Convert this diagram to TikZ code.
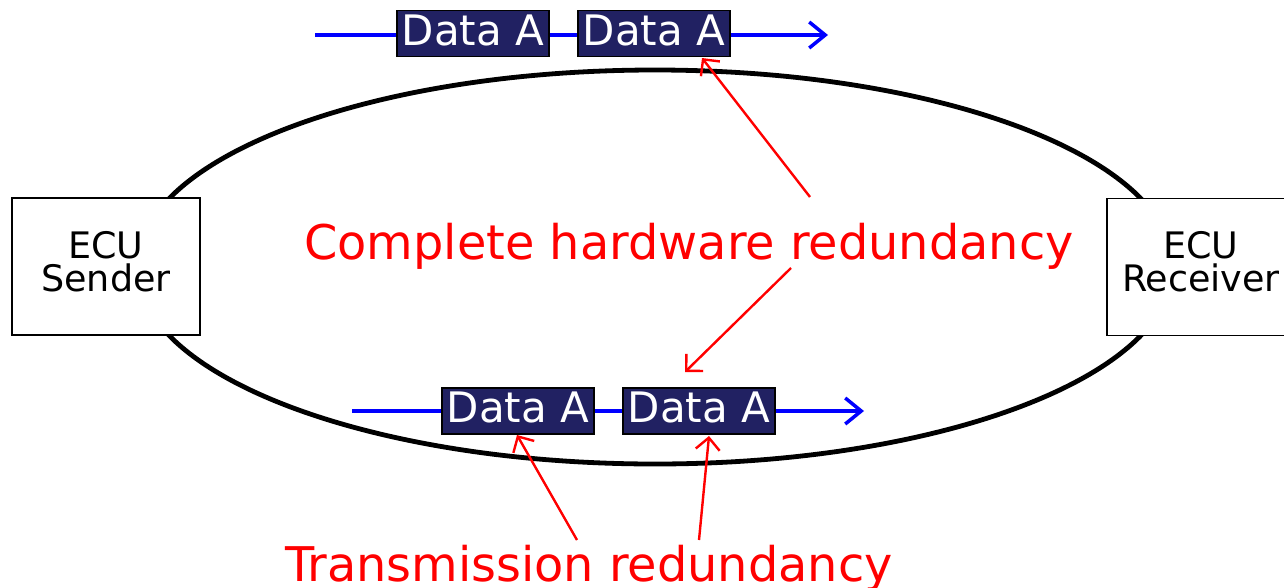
\documentclass[tikz,border=0pt]{standalone}
\usepackage{fontspec}
\setmainfont{DejaVu Sans}
\usetikzlibrary{arrows.meta}
\definecolor{navy}{RGB}{33,33,98}
\begin{document}
\begin{tikzpicture}[x=1pt,y=-1pt,
  ecubox/.style={draw=black,line width=1.5pt,fill=white,minimum width=188pt,minimum height=137pt,inner sep=0pt},
  ecutext/.style={inner sep=0pt,align=center,font=\fontsize{36.5}{33}\selectfont},
  databox/.style={draw=black,line width=1.8pt,fill=navy,text=white,minimum width=152pt,minimum height=46pt,inner sep=0pt,text height=30pt,text depth=7pt,font=\fontsize{42}{42}\selectfont},
  bus/.style={draw=blue,line width=3.5pt,-{Straight Barb[length=16pt,width=26pt,line width=3.5pt]}},
  note/.style={text=red,font=\fontsize{47.8}{47.8}\selectfont,inner sep=0pt,anchor=base},
  pointer/.style={draw=red,line width=2.4pt,-{Straight Barb[length=12pt,width=24pt,line width=2.4pt]}}
]
\useasboundingbox (0,0) rectangle (1284,587);
\clip (0,0) rectangle (1284,587);
\fill[white] (0,0) rectangle (1284,587);
% ring
\draw[line width=4.8pt] (655,267) ellipse [x radius=518, y radius=197];
% ECUs
\node[ecubox] (snd) at (106,266.5) {};
\node[ecubox] (rcv) at (1201,267) {};
\node[ecutext,yshift=5pt] (sndt) at (snd) {ECU\\Sender};
\node[ecutext,yshift=5pt] (rcvt) at (rcv) {ECU\\Receiver};
% buses
\coordinate (t0) at (315,35);
\coordinate (t1) at (828,35);
\coordinate (b0) at (352,411);
\coordinate (b1) at (864,411);
\draw[bus] (t0) -- (t1);
\draw[bus] (b0) -- (b1);
\node[databox] (d1) at (473,33.5) {Data A};
\node[databox] (d2) at (654,33.5) {Data A};
\node[databox] (d3) at (518,411) {Data A};
\node[databox] (d4) at (699,411) {Data A};
% labels
\node[note] (chr) at (689,259) {Complete hardware redundancy};
\node[note] (tr) at (589,581) {Transmission redundancy};
% pointers
\coordinate (p1s) at (810,197);
\coordinate (p1e) at (702,58);
\coordinate (p2s) at (791,268);
\coordinate (p2e) at (685,372);
\coordinate (p3s) at (577,540);
\coordinate (p3e) at (517,435);
\coordinate (p4s) at (699,540);
\coordinate (p4e) at (709,436);
\draw[pointer] (p1s) -- (p1e);
\draw[pointer] (p2s) -- (p2e);
\draw[pointer] (p3s) -- (p3e);
\draw[pointer] (p4s) -- (p4e);
\end{tikzpicture}
\end{document}
